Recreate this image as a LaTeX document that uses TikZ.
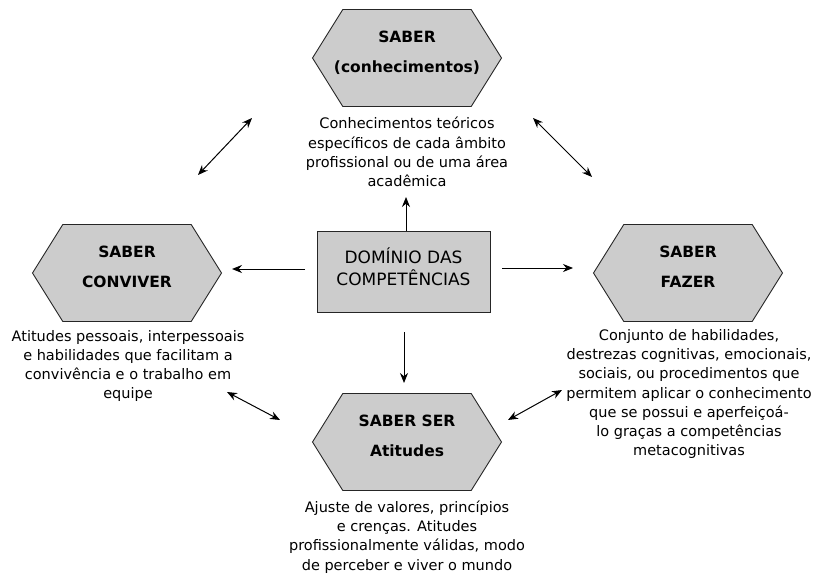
\documentclass[tikz,border=0pt]{standalone}
\usepackage{fontspec}
\setmainfont{DejaVu Sans}
\usetikzlibrary{shapes.symbols,arrows.meta}
\tikzset{
  saber/.style={signal, signal to=west and east, signal pointer angle=116,
    draw=black!85, fill=black!20, line width=0.9pt,
    minimum width=189pt, minimum height=97pt, inner sep=0pt, align=center,
    font=\bfseries\fontsize{15.5}{30}\selectfont,
    execute at end node={\rule[-13pt]{0pt}{0pt}}},
  nucleo/.style={rectangle, draw=black!85, fill=black!20, line width=0.9pt,
    minimum width=173pt, minimum height=81pt, align=center,
    font=\fontsize{17}{22}\selectfont,
    execute at end node={\rule[-10pt]{0pt}{0pt}}},
  desc/.style={align=center, inner sep=0pt, font=\fontsize{14.5}{19.3}\selectfont},
  seta/.style={-{Stealth[length=10pt,width=8pt]}, line width=1pt},
  dupla/.style={{Stealth[length=10pt,width=8pt]}-{Stealth[length=10pt,width=8pt]}, line width=1pt}
}
\begin{document}
\begin{tikzpicture}[x=1pt,y=-1pt]
 \useasboundingbox (0,0) rectangle (817,575);
 % centro
 \node[nucleo] (dominio) at (403.5,271.5) {DOMÍNIO DAS\\COMPETÊNCIAS};
 % os quatro saberes
 \node[saber, inner xsep=-24pt] (conhec) at (407,58) {SABER\\(conhecimentos)};
 \node[saber] (conviver) at (127,273) {SABER\\CONVIVER};
 \node[saber] (fazer) at (688,273) {SABER\\FAZER};
 \node[saber] (ser) at (407,442) {SABER SER\\Atitudes};
 % textos
 \node[desc] (tconhec) at (407,152) {Conhecimentos teóricos\\específicos de cada âmbito\\profissional ou de uma área\\acadêmica};
 \node[desc] (tconviver) at (128,366) {Atitudes pessoais, interpessoais\\e habilidades que facilitam a\\convivência e o trabalho em\\equipe};
 \node[desc] (tfazer) at (689,394) {Conjunto de habilidades,\\destrezas cognitivas, emocionais,\\sociais, ou procedimentos que\\permitem aplicar o conhecimento\\que se possui e aperfeiçoá-\\lo graças a competências\\metacognitivas};
 \node[desc] (tser) at (407,537) {Ajuste de valores, princípios\\e crenças. Atitudes\\profissionalmente válidas, modo\\de perceber e viver o mundo};
 % pontas das setas
 \coordinate (cima) at (406,197);
 \coordinate (baixo0) at (404,332);
 \coordinate (baixo) at (404,383);
 \coordinate (esq0) at (305,269);
 \coordinate (esq) at (232,269);
 \coordinate (dir0) at (502,268);
 \coordinate (dir) at (573,268);
 \coordinate (a1) at (198,175); \coordinate (a2) at (252,118);
 \coordinate (b1) at (533,118); \coordinate (b2) at (592,177);
 \coordinate (c1) at (227,392); \coordinate (c2) at (280,420);
 \coordinate (d1) at (508,420); \coordinate (d2) at (562,390);
 % setas
 \draw[seta] (dominio.north -| cima) -- (cima);
 \draw[seta] (baixo0) -- (baixo);
 \draw[seta] (esq0) -- (esq);
 \draw[seta] (dir0) -- (dir);
 \draw[dupla] (a1) -- (a2);
 \draw[dupla] (b1) -- (b2);
 \draw[dupla] (c1) -- (c2);
 \draw[dupla] (d1) -- (d2);
\end{tikzpicture}
\end{document}
